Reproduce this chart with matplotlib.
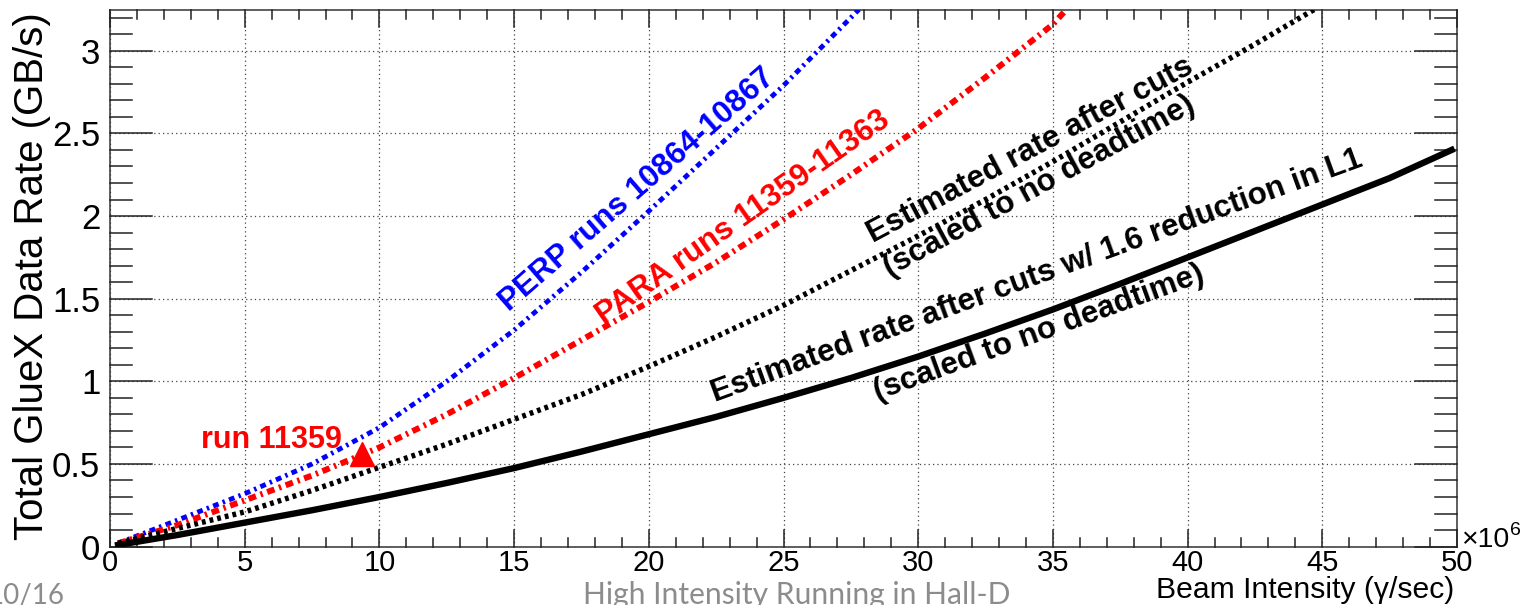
import matplotlib
matplotlib.use("Agg")
import matplotlib.pyplot as plt
import numpy as np

# ---------------- data ----------------
x_perp = [0.3, 2.5, 5, 7.5, 10, 12.5, 15, 17.5, 20, 22.5, 25, 27.8]
y_perp = [0.02, 0.16, 0.32, 0.50, 0.72, 1.00, 1.31, 1.66, 2.03, 2.41, 2.79, 3.25]

x_para = [0.3, 2.5, 5, 7.5, 10, 12.5, 15, 17.5, 20, 22.5, 25, 27.5, 30, 32.5, 35, 35.5]
y_para = [0.02, 0.13, 0.28, 0.43, 0.60, 0.80, 1.02, 1.25, 1.48, 1.72, 1.98, 2.25, 2.53, 2.84, 3.16, 3.25]

x_est = [0.3, 2.5, 5, 7.5, 10, 12.5, 15, 17.5, 20, 22.5, 25, 27.5, 30, 32.5, 35, 37.5, 40, 42.5, 44.7]
y_est = [0.02, 0.11, 0.21, 0.34, 0.48, 0.62, 0.77, 0.92, 1.09, 1.27, 1.46, 1.67, 1.88, 2.10, 2.33, 2.57, 2.81, 3.04, 3.25]

x_l1 = [0.3, 2.5, 5, 7.5, 10, 12.5, 15, 17.5, 20, 22.5, 25, 27.5, 30, 32.5, 35, 37.5, 40, 42.5, 45, 47.5, 49.8]
y_l1 = [0.01, 0.07, 0.145, 0.22, 0.30, 0.385, 0.475, 0.575, 0.68, 0.785, 0.90, 1.02, 1.15, 1.29, 1.435, 1.59, 1.75, 1.91, 2.07, 2.23, 2.40]

run_x = [9.35]
run_y = [0.56]

x_ticks = [0, 5, 10, 15, 20, 25, 30, 35, 40, 45, 50]
y_ticks = [0, 0.5, 1, 1.5, 2, 2.5, 3]
y_ticklabels = ["0", "0.5", "1", "1.5", "2", "2.5", "3"]

label_perp = "PERP runs 10864-10867"
label_para = "PARA runs 11359-11363"
label_est1 = "Estimated rate after cuts"
label_est2 = "(scaled to no deadtime)"
label_l1a = "Estimated rate after cuts w/ 1.6 reduction in L1"
label_l1b = "(scaled to no deadtime)"
label_run = "run 11359"

# ---------------- style ----------------
plt.rcParams['font.family'] = ['Liberation Sans', 'DejaVu Sans']
plt.rcParams.update({
    'xtick.direction': 'in', 'ytick.direction': 'in',
    'xtick.labelcolor': 'black', 'ytick.labelcolor': 'black',
    'xtick.labelsize': 21, 'ytick.labelsize': 25,
    'xtick.major.pad': 2, 'ytick.major.pad': 7,
    'axes.linewidth': 1.1, 'axes.edgecolor': '#333333',
})

W, H = 1538, 605
fig = plt.figure(figsize=(W / 100, H / 100), dpi=100)
ax = fig.add_axes([110 / W, 1 - 546.6 / H, 1347 / W, (546.6 - 9.5) / H])

ax.set_xlim(0, 50)
ax.set_ylim(0, 3.25)

ax.grid(True, which='major', linestyle=(0, (1, 2.5)), color='#444444', linewidth=0.9)

# curves
ax.plot(x_perp, y_perp, color='#0000ff', lw=3.5, linestyle=(0, (1.2, 0.9, 0.5, 0.9)),
        dash_capstyle='butt', zorder=3)
ax.plot(x_para, y_para, color='#ff0000', lw=4.3, linestyle=(0, (1.3, 0.8, 0.4, 0.8)),
        dash_capstyle='butt', zorder=3)
ax.plot(x_est, y_est, color='black', lw=3.9, linestyle=(0, (0.7, 0.75)),
        dash_capstyle='butt', zorder=3)
ax.plot(x_l1, y_l1, color='black', lw=4.6, linestyle='-', zorder=3)

ax.plot(run_x, run_y, marker='^', color='#ff0000', markersize=17, linestyle='none', zorder=4)

# annotations
bold = dict(fontweight='bold', fontsize=22.5, ha='center', va='center', rotation_mode='anchor')
ax.text(19.56, 2.157, label_perp, color='#0000ff', rotation=41, **bold)
ax.text(23.5, 1.99, label_para, color='#ff0000', rotation=35, **bold)
ax.text(34.15, 2.40, label_est1, color='black', rotation=28, **bold)
ax.text(34.5, 2.18, label_est2, color='black', rotation=28.5, **bold)
ax.text(34.4, 1.64, label_l1a, color='black', rotation=20, **bold)
ax.text(34.5, 1.29, label_l1b, color='black', rotation=20, **bold)
ax.text(5.98, 0.645, label_run, color='#ff0000', fontweight='bold', fontsize=22,
        ha='center', va='center')

# tick labels (marks drawn explicitly below, ROOT style on all four sides)
ax.set_xticks(x_ticks)
ax.set_xticklabels([str(t) for t in x_ticks])
ax.set_yticks(y_ticks)
ax.set_yticklabels(y_ticklabels)
ax.tick_params(which='both', length=0)

tick_col = '#222222'
xt = ax.get_xaxis_transform()
yt = ax.get_yaxis_transform()
x_minor = [v for v in np.arange(0, 50.01, 1.0) if v % 5 != 0]
y_minor = [v for v in np.round(np.arange(0, 3.251, 0.1), 2) if round(v * 10) % 5 != 0]
for v in x_ticks:
    ax.plot([v, v], [0, 0.0317], transform=xt, color=tick_col, lw=1.1, clip_on=False, zorder=2.6)
    ax.plot([v, v], [1 - 0.0317, 1], transform=xt, color=tick_col, lw=1.1, clip_on=False, zorder=2.6)
for v in x_minor:
    ax.plot([v, v], [0, 0.0168], transform=xt, color=tick_col, lw=1.1, clip_on=False, zorder=2.6)
    ax.plot([v, v], [1 - 0.0168, 1], transform=xt, color=tick_col, lw=1.1, clip_on=False, zorder=2.6)
for v in y_ticks:
    ax.plot([0, 0.0312], [v, v], transform=yt, color=tick_col, lw=1.1, clip_on=False, zorder=2.6)
    ax.plot([1 - 0.0312, 1], [v, v], transform=yt, color=tick_col, lw=1.1, clip_on=False, zorder=2.6)
for v in y_minor:
    ax.plot([0, 0.0163], [v, v], transform=yt, color=tick_col, lw=1.1, clip_on=False, zorder=2.6)
    ax.plot([1 - 0.0163, 1], [v, v], transform=yt, color=tick_col, lw=1.1, clip_on=False, zorder=2.6)

# axis titles
fig.text(32 / W, 1 - 12 / H, "Total GlueX Data Rate (GB/s)", rotation=90,
         ha='center', va='top', fontsize=29)
fig.text(1454 / W, 7 / H, "Beam Intensity (\u03b3/sec)", ha='right', va='baseline', fontsize=21.7)
fig.text(1461 / W, 1 - 547 / H, "\u00d710", ha='left', va='baseline', fontsize=20.5)
fig.text(1510 / W, 1 - 535 / H, "6", ha='left', va='baseline', fontsize=14)

# slide footer
fig.text(-12 / W, 1 / H, "10/16", ha='left', va='baseline', fontsize=20,
         color='#8c8c8c', family='Lato')
fig.text(583 / W, 1 / H, "High Intensity Running in Hall-D", ha='left', va='baseline',
         fontsize=21.6, color='#8c8c8c', family='Lato')

fig.savefig("out.png", dpi=100)
